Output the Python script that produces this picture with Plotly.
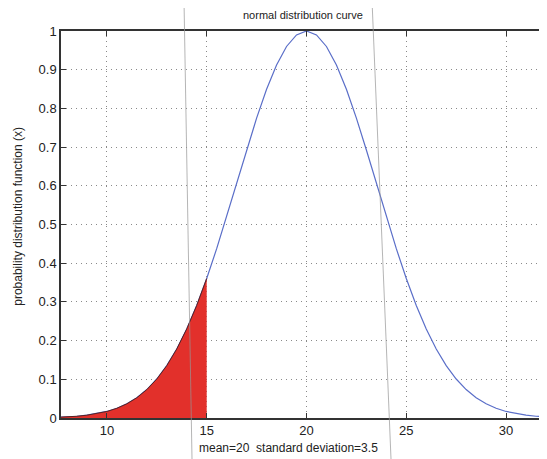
import plotly.graph_objects as go

# curve values (peak 1 at x=20)
x_vals = [7.5, 8, 8.5, 9, 9.5, 10, 10.5, 11, 11.5, 12, 12.5, 13, 13.5, 14, 14.5, 15,
          15.5, 16, 16.5, 17, 17.5, 18, 18.5, 19, 19.5, 20, 20.5, 21, 21.5, 22, 22.5,
          23, 23.5, 24, 24.5, 25, 25.5, 26, 26.5, 27, 27.5, 28, 28.5, 29, 29.5, 30,
          30.5, 31, 31.5, 32, 32.5]
y_vals = [0.0017, 0.0028, 0.0045, 0.0072, 0.0111, 0.0169, 0.0251, 0.0367, 0.0524, 0.0734,
          0.1007, 0.1353, 0.1783, 0.2301, 0.2909, 0.3604, 0.4376, 0.5205, 0.6065, 0.6926,
          0.7748, 0.8493, 0.9122, 0.9600, 0.9898, 1.0, 0.9898, 0.9600, 0.9122, 0.8493,
          0.7748, 0.6926, 0.6065, 0.5205, 0.4376, 0.3604, 0.2909, 0.2301, 0.1783, 0.1353,
          0.1007, 0.0734, 0.0524, 0.0367, 0.0251, 0.0169, 0.0111, 0.0072, 0.0045, 0.0028,
          0.0017]
shade_limit = 15
x_ticks = [10, 15, 20, 25, 30]
y_ticks = [0, 0.1, 0.2, 0.3, 0.4, 0.5, 0.6, 0.7, 0.8, 0.9, 1]
title_text = "normal distribution curve"
xlabel_text = "mean=20  standard deviation=3.5"
ylabel_text = "probability distribution function (x)"

shade_x = [x for x in x_vals if x <= shade_limit]
shade_y = [y for x, y in zip(x_vals, y_vals) if x <= shade_limit]

fig = go.Figure()
fig.add_trace(go.Scatter(x=x_vals, y=y_vals, mode="lines",
                         line=dict(color="#5a6ec8", width=1.2), showlegend=False))
fig.add_trace(go.Scatter(x=shade_x, y=shade_y, mode="lines", fill="tozeroy",
                         fillcolor="#e2302b", line=dict(color="#5a2020", width=1),
                         showlegend=False))

# page body has an 8px margin; figure is shifted accordingly
OFF = 8
L, T, W, H = 61, 31, 485, 387
FW, FH = 547 - OFF, 459 - OFF
font = "Liberation Sans, Arial, sans-serif"
grid = dict(showgrid=True, gridcolor="#8a8a8a", griddash="1px,4px", gridwidth=1.3,
            showline=True, linecolor="#333", linewidth=1.5, mirror="ticks",
            ticks="inside", ticklen=5, tickcolor="#333", zeroline=False,
            tickfont=dict(size=13))
fig.update_layout(
    width=FW, height=FH,
    margin=dict(l=L - OFF, r=FW - (L - OFF) - W, t=T - OFF, b=FH - (T - OFF) - H,
                autoexpand=False),
    paper_bgcolor="white", plot_bgcolor="white",
    font=dict(family=font, color="#222", size=13),
    xaxis=dict(range=[7.7, 32.0], tickvals=x_ticks, **grid),
    yaxis=dict(range=[0, 1.0], tickvals=y_ticks,
               ticktext=["0", "0.1", "0.2", "0.3", "0.4", "0.5", "0.6", "0.7", "0.8", "0.9", "1"],
               **grid),
    annotations=[
        dict(text=title_text, xref="paper", yref="paper", x=(303 - L) / W, y=1.0, yshift=16,
             showarrow=False, font=dict(size=11), xanchor="center", yanchor="middle"),
        dict(text=xlabel_text, xref="paper", yref="paper", x=(197 - L) / W, y=0,
             yshift=-30, showarrow=False, font=dict(size=12), xanchor="left", yanchor="middle"),
        dict(text=ylabel_text, xref="paper", yref="paper", x=0, xshift=-43, y=0.52,
             textangle=-90, showarrow=False, font=dict(size=12), xanchor="center",
             yanchor="middle"),
    ],
    shapes=[
        dict(type="line", xref="paper", yref="paper", x0=(184 - L) / W, y0=(T + H) / H,
             x1=(192 - L) / W, y1=(T + H - 459) / H,
             line=dict(color="rgba(150,150,150,0.7)", width=1)),
        dict(type="line", xref="paper", yref="paper", x0=(372 - L) / W, y0=(T + H) / H,
             x1=(391 - L) / W, y1=(T + H - 459) / H,
             line=dict(color="rgba(150,150,150,0.7)", width=1)),
    ],
)

fig.write_html("out.html")
